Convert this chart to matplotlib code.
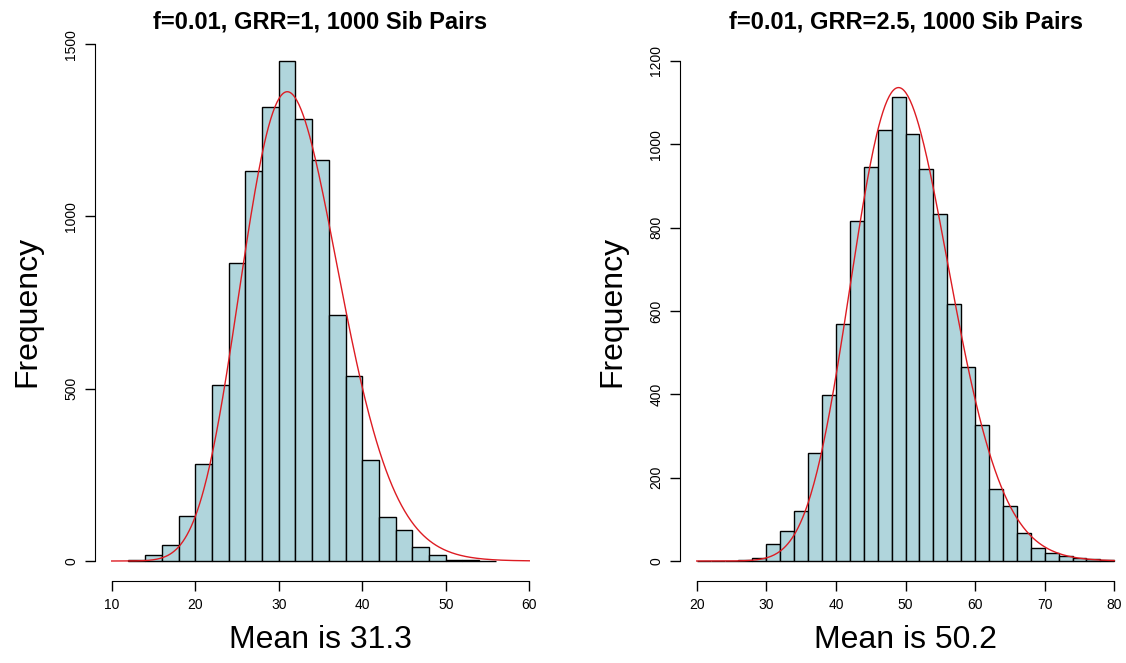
import math
import numpy as np
import matplotlib
matplotlib.use("Agg")
import matplotlib.pyplot as plt

plt.rcParams['font.family'] = ['Liberation Sans', 'DejaVu Sans']

# histogram bins (width 2) and counts
left_edges = np.arange(12, 58, 2)
left_counts = [4, 18, 45, 130, 281, 512, 866, 1133, 1318, 1451, 1283, 1163,
               713, 536, 294, 127, 89, 40, 17, 3, 2, 1]
right_edges = np.arange(20, 82, 2)
right_counts = [1, 0, 0, 3, 8, 42, 72, 119, 260, 399, 570, 816, 946, 1034, 1113,
                1024, 942, 832, 617, 465, 326, 174, 132, 68, 32, 20, 13, 8, 4, 2]

left_title = "f=0.01, GRR=1, 1000 Sib Pairs"
right_title = "f=0.01, GRR=2.5, 1000 Sib Pairs"
left_mean = 31.3
right_mean = 50.2

# fitted density curves (gamma shape / scale)
left_fit = (29.2, 1.10)
right_fit = (49.85, 1.003)
n_total = 10000
bin_w = 2

bar_col = "#B0D5DC"
red = "#DD1C23"


def gamma_counts(x, k, theta):
    lp = (k - 1) * np.log(x) - x / theta - math.lgamma(k) - k * math.log(theta)
    return n_total * bin_w * np.exp(lp)


def panel(ax, edges, counts, fit, xr, yr, ytop, ystep, title, mean):
    ax.bar(edges[:len(counts)], counts, width=bin_w, align='edge',
           color=bar_col, edgecolor='black', linewidth=1)
    xs = np.linspace(xr[0], xr[1], 400)
    ax.plot(xs, gamma_counts(xs, *fit), color=red, linewidth=1)

    pad_x = 0.04 * (xr[1] - xr[0])
    ax.set_xlim(xr[0] - pad_x, xr[1] + pad_x)
    ax.set_ylim(-0.04 * yr, 1.04 * yr)

    ax.spines['top'].set_visible(False)
    ax.spines['right'].set_visible(False)
    ax.spines['bottom'].set_bounds(xr[0], xr[1])
    ax.spines['left'].set_bounds(0, ytop)

    ax.set_xticks(np.arange(xr[0], xr[1] + 1, 10))
    ax.set_yticks(np.arange(0, ytop + 1, ystep))
    ax.tick_params(length=7, width=1, labelsize=10, direction='out')
    ax.tick_params(axis='x', pad=5)
    ax.tick_params(axis='y', pad=5)
    for lab in ax.get_yticklabels():
        lab.set_rotation(90)
        lab.set_va('center')

    ax.set_title(title, fontsize=17, fontweight='bold', y=1.035, pad=0, va='center')
    ax.set_xlabel("Mean is %.1f" % mean, fontsize=23)
    ax.xaxis.set_label_coords(0.5, -0.109)
    ax.xaxis.label.set_va('center')
    ax.set_ylabel("Frequency", fontsize=23)
    ax.yaxis.set_label_coords(-0.149, 0.5)
    ax.yaxis.label.set_va('center')


fig = plt.figure(figsize=(11.26, 6.63), dpi=100)
W, H = 1126, 663
ax1 = fig.add_axes([95 / W, (H - 581) / H, 451 / W, 540 / H])
ax2 = fig.add_axes([680 / W, (H - 581) / H, 451 / W, 540 / H])

panel(ax1, left_edges, left_counts, left_fit, (10, 60), 1451, 1500, 500, left_title, left_mean)
panel(ax2, right_edges, right_counts, right_fit, (20, 80), 1200, 1200, 200, right_title, right_mean)

fig.savefig("out.png", dpi=100)
